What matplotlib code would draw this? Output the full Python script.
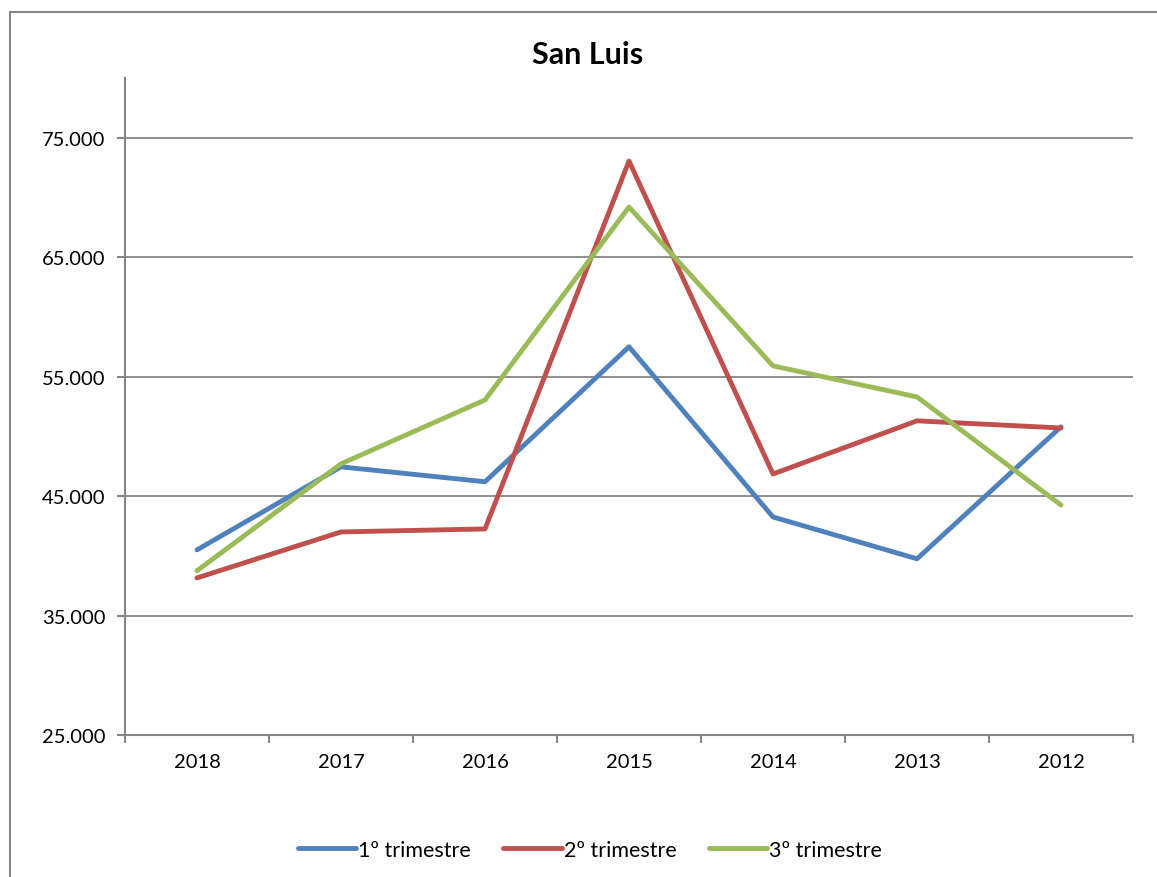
import matplotlib
matplotlib.use('Agg')
import matplotlib.pyplot as plt
from matplotlib.patches import Rectangle
from matplotlib.ticker import FuncFormatter
import numpy as np

plt.rcParams['font.family'] = ['Lato', 'DejaVu Sans']

# datos
years = ['2018', '2017', '2016', '2015', '2014', '2013', '2012']
trim1 = [40500, 47450, 46200, 57500, 43250, 39750, 50800]
trim2 = [38150, 42000, 42250, 73050, 46850, 51300, 50700]
trim3 = [38750, 47700, 53050, 69200, 55900, 53300, 44250]
labels = ['1º trimestre', '2º trimestre', '3º trimestre']
colors = ['#4F81BD', '#C0504D', '#9BBB59']

fig = plt.figure(figsize=(11.57, 8.78), dpi=100)
ax = fig.add_axes([125 / 1157, 1 - 736 / 878, (1133 - 125) / 1157, (736 - 79) / 878])

# marco exterior del grafico
fig.patches.append(Rectangle((9.5 / 1157, -0.1), 1.2, 1.1 - 13.5 / 878,
                             transform=fig.transFigure, fill=False,
                             edgecolor='#868686', linewidth=1.5))

x = np.arange(len(years))
for serie, lab, col in zip([trim1, trim2, trim3], labels, colors):
    ax.plot(x, serie, color=col, linewidth=3.5, label=lab, solid_capstyle='round')

ax.set_xlim(-0.5, len(years) - 0.5)
ax.set_ylim(25000, 80000)
ax.set_yticks([25000, 35000, 45000, 55000, 65000, 75000])
ax.yaxis.set_major_formatter(FuncFormatter(lambda v, p: f'{int(v):,}'.replace(',', '.')))
ax.set_xticks(x)
ax.set_xticklabels(years)
ax.set_xticks(np.arange(-0.5, len(years)), minor=True)
ax.tick_params(axis='x', which='major', length=0, pad=13, labelsize=14.5)
ax.tick_params(axis='x', which='minor', length=6, color='#868686', width=1.5, direction='out')
ax.tick_params(axis='y', length=6, color='#868686', width=1.5, pad=8, labelsize=14.5)

ax.grid(axis='y', color='#868686', linewidth=1.3)
ax.set_axisbelow(True)
for s in ['top', 'right']:
    ax.spines[s].set_visible(False)
for s in ['left', 'bottom']:
    ax.spines[s].set_color('#868686')
    ax.spines[s].set_linewidth(1.5)

fig.text(588 / 1157, 1 - 55 / 878, 'San Luis', ha='center', va='center',
         fontsize=22, fontweight='bold')

fig.legend(loc='center', bbox_to_anchor=(590 / 1157, 1 - 851 / 878), ncol=3,
           frameon=False, fontsize=15.5, handlelength=2.7, handletextpad=0.1,
           columnspacing=1.5)

fig.savefig('out.png', dpi=100)
